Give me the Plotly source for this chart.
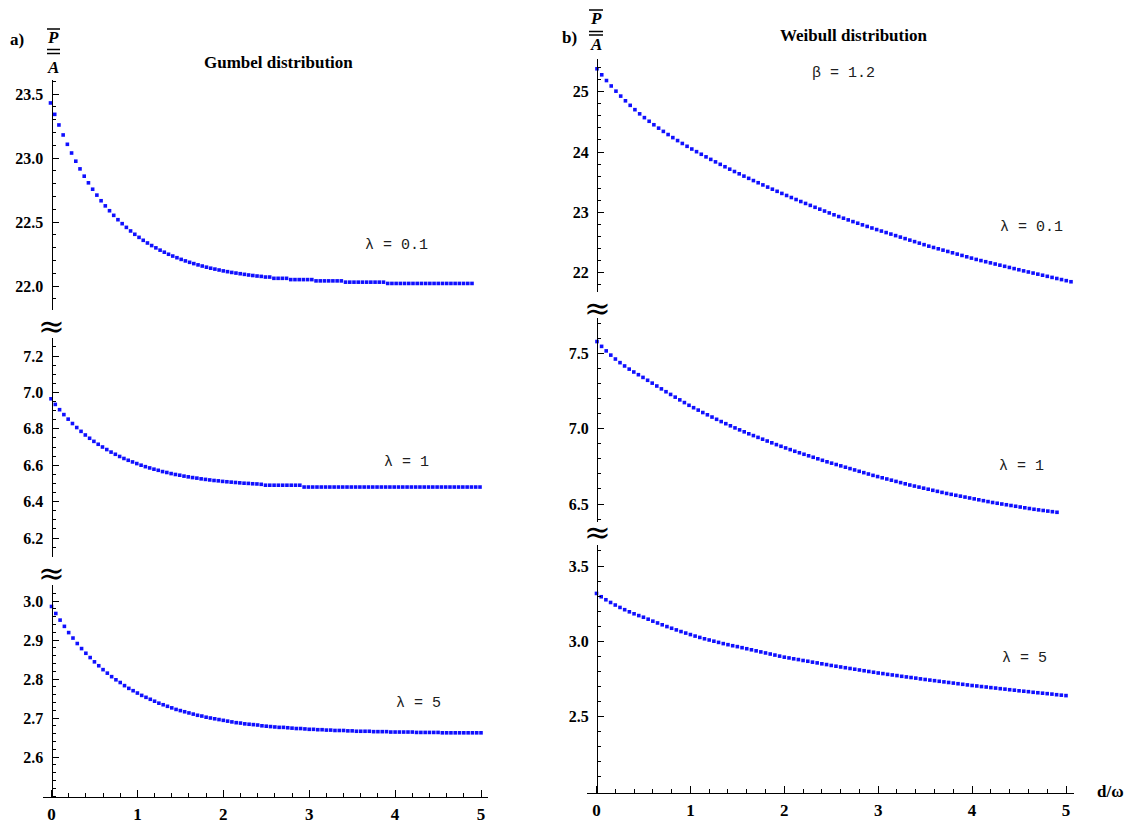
import plotly.graph_objects as go

# ---------------- data ----------------
d_over_omega = [round(i * 0.05, 2) for i in range(101)]

gumbel_l01 = [23.430, 23.341, 23.258, 23.180, 23.107, 23.039, 22.975, 22.915, 22.858, 22.806,
              22.756, 22.710, 22.666, 22.626, 22.588, 22.552, 22.518, 22.487, 22.458, 22.430,
              22.404, 22.380, 22.357, 22.336, 22.316, 22.298, 22.280, 22.264, 22.248, 22.234,
              22.221, 22.208, 22.196, 22.185, 22.175, 22.165, 22.156, 22.147, 22.139, 22.132,
              22.125, 22.118, 22.112, 22.106, 22.101, 22.096, 22.091, 22.086, 22.082, 22.078,
              22.075, 22.07, 22.07, 22.06, 22.06, 22.06, 22.06, 22.05, 22.05, 22.05,
              22.05, 22.05, 22.05, 22.04, 22.04, 22.04, 22.04, 22.04, 22.04, 22.04,
              22.03, 22.03, 22.03, 22.03, 22.03, 22.03, 22.03, 22.03, 22.03, 22.03,
              22.02, 22.02, 22.02, 22.02, 22.02, 22.02, 22.02, 22.02, 22.02, 22.02,
              22.02, 22.02, 22.02, 22.02, 22.02, 22.02, 22.02, 22.02, 22.02, 22.02, 22.02]

gumbel_l1 = [6.965, 6.934, 6.905, 6.878, 6.853, 6.829, 6.807, 6.786, 6.766, 6.748,
             6.731, 6.715, 6.700, 6.686, 6.672, 6.660, 6.648, 6.637, 6.627, 6.618,
             6.609, 6.600, 6.592, 6.585, 6.578, 6.572, 6.565, 6.560, 6.554, 6.549,
             6.545, 6.540, 6.536, 6.532, 6.529, 6.525, 6.522, 6.519, 6.516, 6.514,
             6.511, 6.509, 6.507, 6.505, 6.503, 6.501, 6.500, 6.498, 6.497, 6.495,
             6.49, 6.49, 6.49, 6.49, 6.49, 6.49, 6.49, 6.49, 6.49, 6.48,
             6.48, 6.48, 6.48, 6.48, 6.48, 6.48, 6.48, 6.48, 6.48, 6.48,
             6.48, 6.48, 6.48, 6.48, 6.48, 6.48, 6.48, 6.48, 6.48, 6.48,
             6.48, 6.48, 6.48, 6.48, 6.48, 6.48, 6.48, 6.48, 6.48, 6.48,
             6.48, 6.48, 6.48, 6.48, 6.48, 6.48, 6.48, 6.48, 6.48, 6.48, 6.48]

gumbel_l5 = [2.986, 2.968, 2.951, 2.935, 2.919, 2.905, 2.891, 2.878, 2.866, 2.855,
             2.844, 2.834, 2.824, 2.815, 2.806, 2.798, 2.791, 2.783, 2.776, 2.770,
             2.764, 2.758, 2.753, 2.748, 2.743, 2.738, 2.734, 2.730, 2.726, 2.722,
             2.719, 2.716, 2.713, 2.710, 2.707, 2.705, 2.702, 2.700, 2.698, 2.696,
             2.694, 2.692, 2.690, 2.688, 2.687, 2.685, 2.684, 2.683, 2.682, 2.680,
             2.679, 2.678, 2.677, 2.676, 2.676, 2.675, 2.674, 2.673, 2.673, 2.672,
             2.671, 2.671, 2.670, 2.670, 2.669, 2.669, 2.668, 2.668, 2.668, 2.667,
             2.667, 2.666, 2.666, 2.666, 2.666, 2.665, 2.665, 2.665, 2.665, 2.664,
             2.664, 2.664, 2.664, 2.664, 2.664, 2.663, 2.663, 2.663, 2.663, 2.663,
             2.663, 2.662, 2.662, 2.662, 2.662, 2.662, 2.662, 2.662, 2.662, 2.662, 2.662]

weibull_l01 = [25.38, 25.28, 25.185, 25.095, 25.009, 24.927, 24.849, 24.774, 24.702, 24.633,
               24.570, 24.510, 24.452, 24.396, 24.342, 24.290, 24.239, 24.190, 24.142, 24.095,
               24.050, 24.006, 23.963, 23.920, 23.878, 23.837, 23.796, 23.756, 23.716, 23.677,
               23.639, 23.601, 23.564, 23.527, 23.491, 23.455, 23.419, 23.384, 23.349, 23.314,
               23.280, 23.246, 23.213, 23.180, 23.148, 23.116, 23.084, 23.053, 23.022, 22.991,
               22.960, 22.931, 22.903, 22.875, 22.847, 22.820, 22.793, 22.767, 22.741, 22.715,
               22.690, 22.665, 22.640, 22.615, 22.590, 22.565, 22.540, 22.515, 22.490, 22.465,
               22.440, 22.418, 22.396, 22.374, 22.352, 22.330, 22.308, 22.286, 22.264, 22.242,
               22.220, 22.201, 22.182, 22.163, 22.144, 22.125, 22.106, 22.087, 22.068, 22.049,
               22.030, 22.012, 21.994, 21.976, 21.958, 21.940, 21.922, 21.904, 21.886, 21.868, 21.850]

weibull_l1 = [7.578, 7.546, 7.516, 7.488, 7.462, 7.438, 7.416, 7.395, 7.376, 7.358,
              7.340, 7.321, 7.302, 7.283, 7.264, 7.245, 7.227, 7.209, 7.191, 7.173,
              7.155, 7.139, 7.123, 7.107, 7.092, 7.077, 7.062, 7.047, 7.033, 7.019,
              7.005, 6.992, 6.979, 6.966, 6.954, 6.942, 6.930, 6.918, 6.906, 6.894,
              6.883, 6.872, 6.861, 6.850, 6.840, 6.830, 6.820, 6.810, 6.800, 6.790,
              6.780, 6.771, 6.762, 6.753, 6.744, 6.735, 6.726, 6.717, 6.708, 6.699,
              6.690, 6.682, 6.674, 6.666, 6.658, 6.650, 6.642, 6.634, 6.626, 6.619,
              6.612, 6.605, 6.598, 6.591, 6.584, 6.577, 6.570, 6.564, 6.558, 6.552,
              6.546, 6.540, 6.534, 6.528, 6.522, 6.516, 6.510, 6.505, 6.500, 6.495,
              6.490, 6.485, 6.480, 6.475, 6.470, 6.465, 6.461, 6.457, 6.453, 6.449, 6.445]

weibull_l5 = [3.318, 3.296, 3.276, 3.258, 3.241, 3.225, 3.210, 3.196, 3.183, 3.171,
              3.160, 3.147, 3.134, 3.122, 3.110, 3.098, 3.087, 3.076, 3.065, 3.055,
              3.045, 3.035, 3.026, 3.017, 3.009, 3.001, 2.993, 2.985, 2.978, 2.971,
              2.965, 2.958, 2.951, 2.944, 2.937, 2.930, 2.923, 2.916, 2.909, 2.902,
              2.895, 2.890, 2.884, 2.879, 2.873, 2.868, 2.862, 2.857, 2.851, 2.846,
              2.840, 2.835, 2.830, 2.825, 2.820, 2.815, 2.810, 2.805, 2.800, 2.795,
              2.790, 2.786, 2.781, 2.777, 2.773, 2.768, 2.764, 2.760, 2.756, 2.751,
              2.747, 2.743, 2.739, 2.735, 2.731, 2.727, 2.723, 2.719, 2.715, 2.711,
              2.707, 2.704, 2.700, 2.697, 2.693, 2.690, 2.686, 2.683, 2.679, 2.676,
              2.672, 2.669, 2.666, 2.662, 2.659, 2.656, 2.653, 2.650, 2.646, 2.643, 2.640]

x_ticks = [0, 1, 2, 3, 4, 5]
gumbel_top_ticks = [22.0, 22.5, 23.0, 23.5]
gumbel_mid_ticks = [6.2, 6.4, 6.6, 6.8, 7.0, 7.2]
gumbel_bot_ticks = [2.6, 2.7, 2.8, 2.9, 3.0]
weibull_top_ticks = [22, 23, 24, 25]
weibull_mid_ticks = [6.5, 7.0, 7.5]
weibull_bot_ticks = [2.5, 3.0, 3.5]

# ---------------- layout helpers ----------------
W, H = 1129, 823


def px(x):
    return x / W


def py(y):
    return 1 - y / H


BLUE = "#1010ff"
SERIF = "Liberation Serif"
TICKFONT = dict(family=SERIF, size=16, color="black", weight="bold")

fig = go.Figure()

series = [
    (gumbel_l01, "x", "y"),
    (gumbel_l1, "x2", "y2"),
    (gumbel_l5, "x3", "y3"),
    (weibull_l01, "x4", "y4"),
    (weibull_l1, "x5", "y5"),
    (weibull_l5, "x6", "y6"),
]
for vals, xa, ya in series:
    fig.add_trace(go.Scatter(
        x=d_over_omega, y=vals, xaxis=xa, yaxis=ya, mode="markers",
        marker=dict(color=BLUE, size=3.6, symbol="square", line=dict(width=0)),
        cliponaxis=False, showlegend=False, hoverinfo="skip"))


def yaxis(line_x, top, bottom, rng, ticks, fmt, minor_dt):
    return dict(
        anchor="free", position=px(line_x),
        domain=[py(bottom), py(top)], range=rng,
        showline=True, linecolor="black", linewidth=1,
        ticks="inside", ticklen=6, tickwidth=1, tickcolor="black",
        tickvals=ticks, tickformat=fmt, tickfont=TICKFONT,
        ticklabelstandoff=5,
        minor=dict(dtick=minor_dt, ticks="inside", ticklen=3, tickwidth=1, tickcolor="black"),
        showgrid=False, zeroline=False, fixedrange=True,
    )


def hidden_x(x0, x5, yanchor):
    return dict(domain=[px(x0), px(x5)], range=[0, 5], visible=False,
                anchor=yanchor, fixedrange=True)


def shown_x(lx0, lx1, x0, x5, yanchor):
    unit = (x5 - x0) / 5.0
    return dict(domain=[px(lx0), px(lx1)],
                range=[(lx0 - x0) / unit, (lx1 - x0) / unit],
                anchor=yanchor, showline=True, linecolor="black", linewidth=1,
                ticks="inside", ticklen=7, tickwidth=1, tickcolor="black",
                tickvals=x_ticks, tickfont=dict(family=SERIF, size=17,
                                                color="black", weight="bold"),
                ticklabelstandoff=2,
                minor=dict(dtick=0.2, ticks="inside", ticklen=4, tickwidth=1, tickcolor="black"),
                showgrid=False, zeroline=False, fixedrange=True)


def yrange(top_px, bottom_px, v1, p1, v2, p2):
    s = (p2 - p1) / (v1 - v2)  # px per unit
    return [v2 - (bottom_px - p2) / s, v1 + (p1 - top_px) / s]


AX_A = 51.5
AX_B = 597.0

layout_axes = dict(
    # Gumbel
    yaxis=yaxis(AX_A, 80, 310, yrange(80, 310, 23.5, 94, 22.0, 286), gumbel_top_ticks, ".1f", 0.1),
    yaxis2=yaxis(AX_A, 338, 557, yrange(338, 557, 7.2, 356, 6.2, 538), gumbel_mid_ticks, ".1f", 0.05),
    yaxis3=yaxis(AX_A, 585, 797, yrange(585, 797, 3.0, 601, 2.6, 757), gumbel_bot_ticks, ".1f", 0.02),
    xaxis=hidden_x(50.5, 472, "y"),
    xaxis2=hidden_x(51, 480, "y2"),
    xaxis3=shown_x(43, 488, 51.5, 481, "y3"),
    # Weibull
    yaxis4=yaxis(AX_B, 59, 292, yrange(59, 292, 25, 91.7, 22, 272.7), weibull_top_ticks, "d", 0.2),
    yaxis5=yaxis(AX_B, 318, 522, yrange(318, 522, 7.5, 353.3, 6.5, 504), weibull_mid_ticks, ".1f", 0.1),
    yaxis6=yaxis(AX_B, 545, 793, yrange(545, 793, 3.5, 566, 2.5, 716.7), weibull_bot_ticks, ".1f", 0.1),
    xaxis4=hidden_x(597, 1071, "y4"),
    xaxis5=hidden_x(597, 1057, "y5"),
    xaxis6=shown_x(587, 1074, 596.5, 1066, "y6"),
)

annotations = []


def text(x, y, s, size=15, family=SERIF, bold=True, color="black", italic=False):
    annotations.append(dict(
        x=px(x), y=py(y), xref="paper", yref="paper", text=s, showarrow=False,
        xanchor="center", yanchor="middle",
        font=dict(family=family, size=size, color=color,
                  weight="bold" if bold else "normal",
                  style="italic" if italic else "normal")))


MONO = "Liberation Mono"
LBL = "#202020"
# panel labels & titles
text(17, 40, "a)", size=17)
text(569, 37, "b)", size=17)
text(278, 62, "Gumbel distribution", size=17)
text(853, 35, "Weibull distribution", size=17)
text(844, 73, "β = 1.2", size=15, family=MONO, bold=False, color=LBL)
# lambda labels
text(396, 246, "λ = 0.1", size=15, family=MONO, bold=False, color=LBL)
text(406, 462, "λ = 1", size=15, family=MONO, bold=False, color=LBL)
text(418, 703, "λ = 5", size=15, family=MONO, bold=False, color=LBL)
text(1031, 228, "λ = 0.1", size=15, family=MONO, bold=False, color=LBL)
text(1021, 467, "λ = 1", size=15, family=MONO, bold=False, color=LBL)
text(1024, 658, "λ = 5", size=15, family=MONO, bold=False, color=LBL)
# x axis title
text(1110, 791, "d/ω", size=17)
# break symbols
for bx, by in [(AX_A, 326), (AX_A, 573), (AX_B, 308), (AX_B, 532)]:
    text(bx, by, "≈", size=32, family="DejaVu Serif", bold=False)
# P/A fraction labels
text(53, 37, "P", size=17, italic=True)
text(53, 67, "A", size=17, italic=True)
text(596, 18, "P", size=17, italic=True)
text(596, 45, "A", size=17, italic=True)

shapes = []


def hline(x0, x1, y, w=1.5):
    shapes.append(dict(type="line", xref="paper", yref="paper",
                       x0=px(x0), x1=px(x1), y0=py(y), y1=py(y),
                       line=dict(color="black", width=w)))


# overline P, fraction bar, overline A (panel a)
hline(47, 60, 29)
hline(47, 60, 49.5)
hline(47, 60, 53.5)
# panel b
hline(589, 603, 10)
hline(589, 603, 31.5)
hline(589, 603, 35)

fig.update_layout(
    width=W, height=H,
    margin=dict(l=0, r=0, t=0, b=0),
    paper_bgcolor="white", plot_bgcolor="rgba(0,0,0,0)",
    annotations=annotations, shapes=shapes,
    showlegend=False,
    **layout_axes,
)

fig.write_html("out.html", config={"displayModeBar": False},
               post_script="document.body.style.margin='0px';")
